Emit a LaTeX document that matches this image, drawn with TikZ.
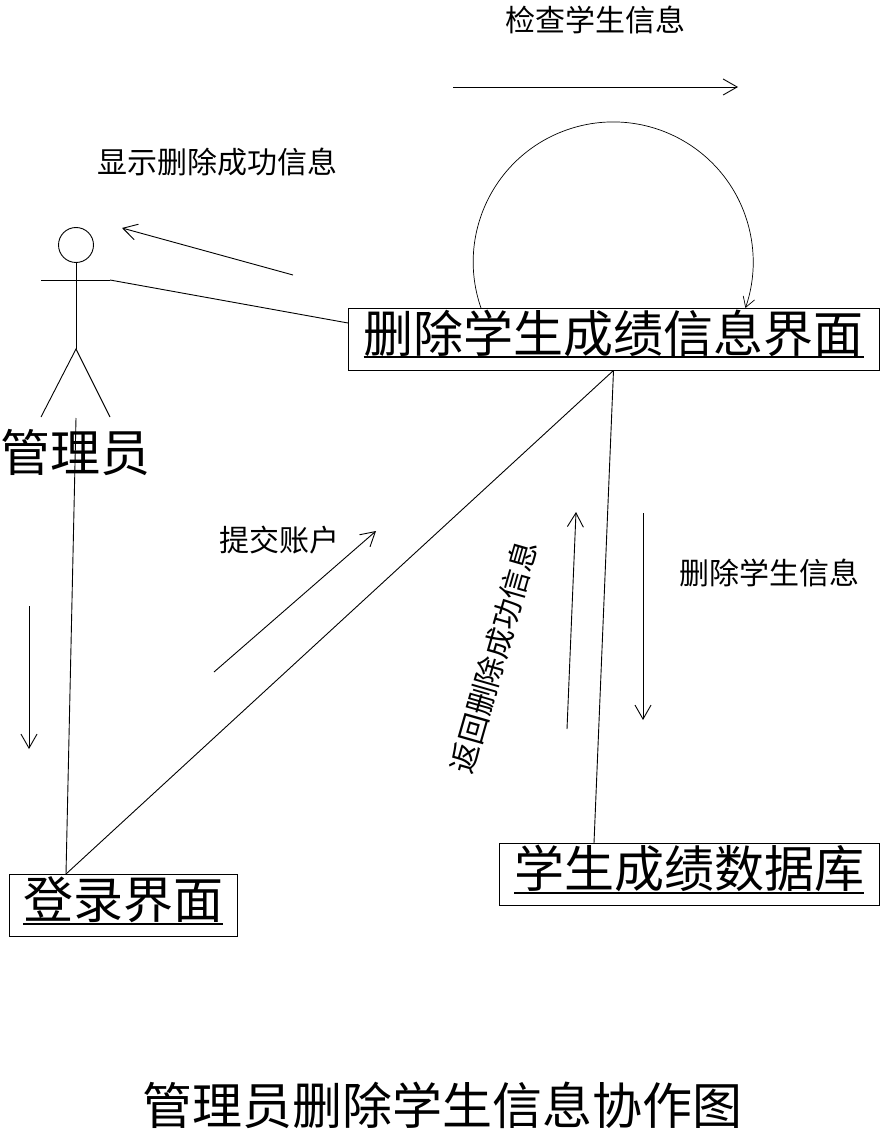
\documentclass[tikz,border=0pt]{standalone}
\usepackage{fontspec}
\setmainfont{Noto Sans CJK SC}
\usetikzlibrary{arrows.meta}
\newcommand{\ultext}[1]{\setbox0\hbox{#1}\rlap{\rule[-6pt]{\wd0}{1.8pt}}\box0}
\begin{document}
\begin{tikzpicture}[x=1pt,y=-1pt,line width=0.9pt,
  >={Straight Barb[length=14pt,width=16pt]},
  bigbox/.style={draw,inner sep=0pt,minimum height=62pt,text height=34pt,text depth=8pt,font=\fontsize{50}{50}\selectfont},
  bigtxt/.style={inner sep=0pt,font=\fontsize{50}{50}\selectfont},
  smalltxt/.style={inner sep=0pt,font=\fontsize{30}{30}\selectfont}]

\useasboundingbox (0,0) rectangle (880,1139);

\node[bigbox,minimum width=531pt] (iface) at (613.5,339) {\ultext{删除学生成绩信息界面}};
\node[bigbox,minimum width=228pt] (login) at (123,905.5) {\ultext{登录界面}};
\node[bigbox,minimum width=380pt] (db) at (689,874.5) {\ultext{学生成绩数据库}};

% actor
\node[draw,circle,inner sep=0pt,minimum size=35pt] (head) at (76,245) {};
\coordinate (hip) at (76,349);
\coordinate (handl) at (41,280);
\coordinate (handr) at (110,280);
\coordinate (footl) at (41,417);
\coordinate (footr) at (110,417);
\coordinate (foot) at (76,418);
\draw (head) -- (hip);
\draw (handl) -- (handr);
\draw (footl) -- (hip) -- (footr);
\node[bigtxt] (actor) at (75,452) {管理员};

% links
\coordinate (ifl) at (348,323);
\coordinate (lgt) at (66,874);
\coordinate (dbt) at (594,843);
\draw (handr) -- (ifl);
\draw (foot) -- (lgt);
\draw (lgt) -- (iface.south);
\draw (dbt) -- (iface.south);

% loop on the form
\coordinate (loopa) at (481,308);
\draw[->,>={Straight Barb[length=10pt,width=12pt]},line width=0.7pt] (loopa) arc (160.8:379.2:140);

% messages
\coordinate (m1a) at (453,87);
\coordinate (m1b) at (738,87);
\coordinate (m2a) at (293,275);
\coordinate (m2b) at (122,228);
\coordinate (m3a) at (29,606);
\coordinate (m3b) at (29,749);
\coordinate (m4a) at (214,672);
\coordinate (m4b) at (376,531);
\coordinate (m5a) at (567,729);
\coordinate (m5b) at (576,512);
\coordinate (m6a) at (643,513);
\coordinate (m6b) at (643,720);
\draw[->] (m1a) -- (m1b);
\draw[->] (m2a) -- (m2b);
\draw[->] (m3a) -- (m3b);
\draw[->] (m4a) -- (m4b);
\draw[->] (m5a) -- (m5b);
\draw[->] (m6a) -- (m6b);

\node[smalltxt] (t1) at (595,20) {检查学生信息};
\node[smalltxt] (t2) at (217,162) {显示删除成功信息};
\node[smalltxt] (t4) at (279,540) {提交账户};
\node[smalltxt,rotate=74] (t5) at (494,657) {返回删除成功信息};
\node[smalltxt] (t6) at (769,573) {删除学生信息};

\node[bigtxt] (title) at (442,1105) {管理员删除学生信息协作图};

\end{tikzpicture}
\end{document}
